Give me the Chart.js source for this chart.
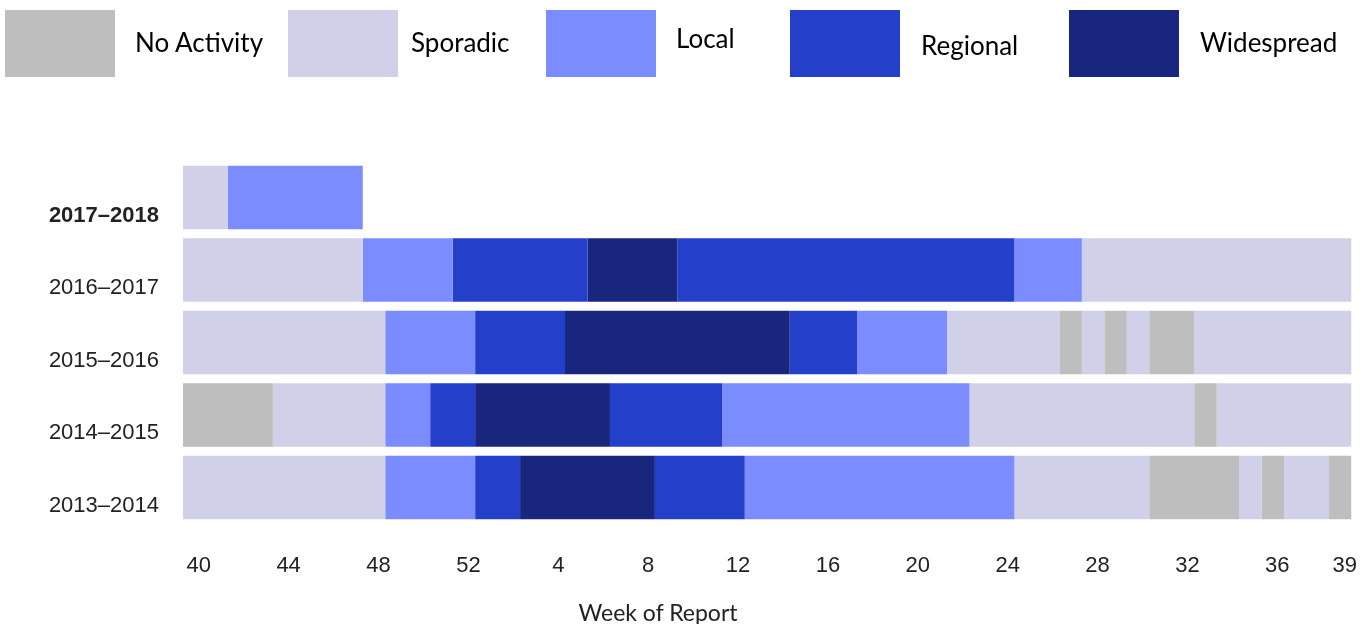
<!DOCTYPE html>
<html>
<head>
<meta charset="utf-8">
<script src="https://cdn.jsdelivr.net/npm/chart.js@4.4.0/dist/chart.umd.min.js"></script>
<style>
html,body{margin:0;padding:0;background:#fff;width:1367px;height:624px;overflow:hidden;}
#wrap{position:absolute;left:0;top:0;width:1367px;height:624px;}
.box{position:absolute;top:10px;height:67px;width:110px;}
.lab{position:absolute;font-family:Lato,'Open Sans',sans-serif;font-size:26px;line-height:26px;color:#000;white-space:nowrap;}
#xtitle{position:absolute;left:658px;top:601px;transform:translateX(-50%);font-family:Lato,'Open Sans',sans-serif;font-size:23px;line-height:23px;color:#222;white-space:nowrap;}
</style>
</head>
<body>
<div id="wrap"><canvas id="c"></canvas></div>
<div id="legend"></div>
<div id="xtitle">Week of Report</div>
<script>
// Activity levels
const levelNames = ['No Activity', 'Sporadic', 'Local', 'Regional', 'Widespread'];
const levelColors = ['#bebebe', '#d0d0e8', '#7b8cff', '#243fca', '#18267d'];

// Seasons (top to bottom)
const seasons = ['2017–2018', '2016–2017', '2015–2016', '2014–2015', '2013–2014'];

// Weekly activity level per season, starting at week 40
// 0 = No Activity, 1 = Sporadic, 2 = Local, 3 = Regional, 4 = Widespread
const weeks2017_2018 = [1,1,2,2,2,2,2,2];
const weeks2016_2017 = [1,1,1,1,1,1,1,1, 2,2,2,2, 3,3,3,3,3,3, 4,4,4,4, 3,3,3,3,3,3,3,3,3,3,3,3,3,3,3, 2,2,2, 1,1,1,1,1,1,1,1,1,1,1,1];
const weeks2015_2016 = [1,1,1,1,1,1,1,1,1, 2,2,2,2, 3,3,3,3, 4,4,4,4,4,4,4,4,4,4, 3,3,3, 2,2,2,2, 1,1,1,1,1, 0, 1, 0, 1, 0,0, 1,1,1,1,1,1,1];
const weeks2014_2015 = [0,0,0,0, 1,1,1,1,1, 2,2, 3,3, 4,4,4,4,4,4, 3,3,3,3,3, 2,2,2,2,2,2,2,2,2,2,2, 1,1,1,1,1,1,1,1,1,1, 0, 1,1,1,1,1,1];
const weeks2013_2014 = [1,1,1,1,1,1,1,1,1, 2,2,2,2, 3,3, 4,4,4,4,4,4, 3,3,3,3, 2,2,2,2,2,2,2,2,2,2,2,2, 1,1,1,1,1,1, 0,0,0,0, 1, 0, 1,1, 0];

// X-axis tick labels (week numbers) and their week index from week 40
const tickLabels = ['40','44','48','52','4','8','12','16','20','24','28','32','36','39'];
const tickWeekIndex = [0,4,8,12,16,20,24,28,32,36,40,44,48,51];

const seasonWeeks = [weeks2017_2018, weeks2016_2017, weeks2015_2016, weeks2014_2015, weeks2013_2014];

// Merge consecutive equal weeks into runs
function toRuns(arr) {
  const runs = [];
  for (const lv of arr) {
    const last = runs[runs.length - 1];
    if (last && last.level === lv) last.len++;
    else runs.push({ level: lv, len: 1 });
  }
  return runs;
}
const seasonRuns = seasonWeeks.map(toRuns);
const maxRuns = Math.max(...seasonRuns.map(r => r.length));
const datasets = [];
for (let r = 0; r < maxRuns; r++) {
  datasets.push({
    label: 'seg' + r,
    data: seasonRuns.map(runs => runs[r] ? runs[r].len : null),
    backgroundColor: seasonRuns.map(runs => runs[r] ? levelColors[runs[r].level] : 'rgba(0,0,0,0)'),
    borderWidth: 0,
    barPercentage: 0.876,
    categoryPercentage: 1.0
  });
}

// HTML legend
const legendBoxLeft = [5, 288, 546, 790, 1069];
const legendTextLeft = [135, 411, 676, 921, 1200];
const legendTextTop = [29, 29, 25, 32, 29];
const legendEl = document.getElementById('legend');
levelNames.forEach((name, i) => {
  const b = document.createElement('div');
  b.className = 'box';
  b.style.left = legendBoxLeft[i] + 'px';
  b.style.background = levelColors[i];
  legendEl.appendChild(b);
  const t = document.createElement('div');
  t.className = 'lab';
  t.style.left = legendTextLeft[i] + 'px';
  t.style.top = legendTextTop[i] + 'px';
  t.textContent = name;
  legendEl.appendChild(t);
});

new Chart(document.getElementById('c'), {
  type: 'bar',
  data: { labels: seasons, datasets: datasets },
  options: {
    indexAxis: 'y',
    responsive: true,
    maintainAspectRatio: false,
    animation: false,
    layout: { padding: { top: 161.25, right: 15.5, left: 0, bottom: 0 } },
    plugins: { legend: { display: false }, tooltip: { enabled: false } },
    scales: {
      x: {
        type: 'linear',
        min: 0,
        max: 52,
        stacked: true,
        grid: { display: false, drawTicks: false },
        border: { display: false },
        afterBuildTicks: s => { s.ticks = tickWeekIndex.map(w => ({ value: w + 0.7 })); },
        afterFit: s => { s.height = 100.25; s.paddingLeft = 0; s.paddingRight = 0; },
        ticks: {
          autoSkip: false,
          maxRotation: 0,
          padding: 29,
          color: '#222',
          font: { family: "'Liberation Sans', Arial, sans-serif", size: 22 },
          callback: (v, i) => tickLabels[i]
        }
      },
      y: {
        type: 'category',
        stacked: true,
        offset: true,
        grid: { display: false, drawTicks: false },
        border: { display: false },
        afterFit: s => { s.width = 183; },
        ticks: {
          padding: 24,
          labelOffset: 18,
          color: '#222',
          font: ctx => ({ family: "'Liberation Sans', Arial, sans-serif", size: 22, weight: ctx.index === 0 ? 'bold' : 'normal' })
        }
      }
    }
  }
});
</script>
</body>
</html>
